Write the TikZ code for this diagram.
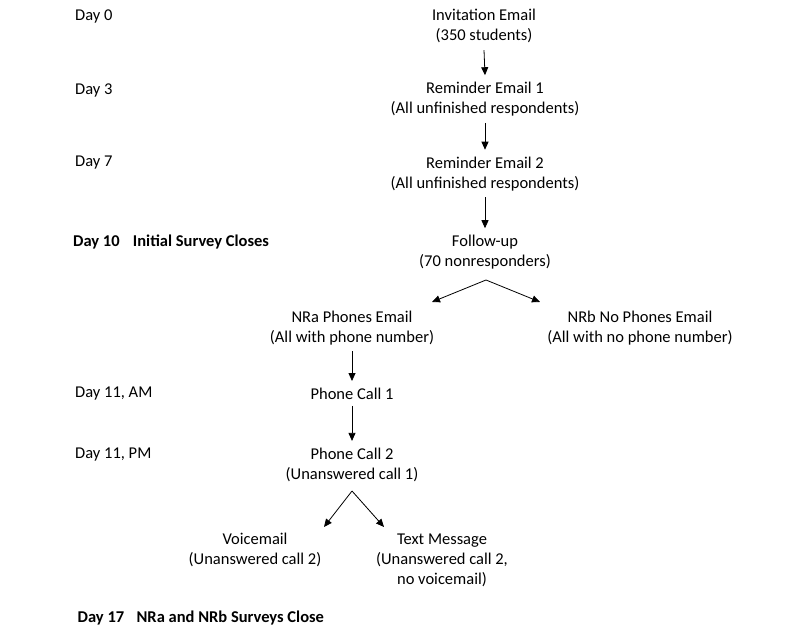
\documentclass[tikz,border=0pt]{standalone}
\usepackage{fontspec}
\setmainfont{Carlito}
\usetikzlibrary{arrows.meta}
\tikzset{
  lbl/.style={inner sep=0pt, align=center, font=\fontsize{16.5}{20}\selectfont},
  day/.style={inner sep=0pt, anchor=west, font=\fontsize{16.5}{20}\selectfont},
  bday/.style={day, font=\fontsize{16.5}{20}\selectfont\bfseries},
  arr/.style={line width=0.8pt, -{Triangle[length=8pt,width=7pt]}},
}
\begin{document}
\begin{tikzpicture}[x=1pt,y=-1pt]
\useasboundingbox (0,0) rectangle (800,639);
% day labels
\node[day] (d0) at (75,16) {Day 0};
\node[day] (d3) at (75,90) {Day 3};
\node[day] (d7) at (75,163) {Day 7};
\node[bday] (d10) at (73,242) {Day 10\hspace{0.8em}Initial Survey Closes};
\node[day] (d11a) at (75,394) {Day 11, AM};
\node[day] (d11p) at (75,455) {Day 11, PM};
\node[bday] (d17) at (77.5,618) {Day 17\hspace{0.75em}NRa and NRb Surveys Close};
% flow nodes
\node[lbl] (inv) at (484,26) {Invitation Email\\(350 students)};
\node[lbl] (rem1) at (485,99.5) {Reminder Email 1\\(All unfinished respondents)};
\node[lbl] (rem2) at (485,174) {Reminder Email 2\\(All unfinished respondents)};
\node[lbl] (fu) at (485,252.5) {Follow-up\\(70 nonresponders)};
\node[lbl] (nra) at (352,328) {NRa Phones Email\\(All with phone number)};
\node[lbl] (nrb) at (640,328) {NRb No Phones Email\\(All with no phone number)};
\node[lbl] (pc1) at (352,394) {Phone Call 1};
\node[lbl] (pc2) at (352,465) {Phone Call 2\\(Unanswered call 1)};
\node[lbl] (vm) at (255,550) {Voicemail\\(Unanswered call 2)};
\node[lbl] (tm) at (442,560) {Text Message\\(Unanswered call 2,\\no voicemail)};
% branch points
\coordinate (fub) at (486,280);
\coordinate (nrain) at (432,302);
\coordinate (nrbin) at (540,302);
\coordinate (pcb) at (352,491);
\coordinate (vmin) at (324,527);
\coordinate (tmin) at (384,527);
% arrows
\draw[arr] ([yshift=-7pt]inv.south) -- ([yshift=7pt]rem1.north);
\draw[arr] ([yshift=-6pt]rem1.south) -- ([yshift=7pt]rem2.north);
\draw[arr] ([yshift=-6pt]rem2.south) -- ([yshift=7pt]fu.north);
\draw[arr] (fub) -- (nrain);
\draw[arr] (fub) -- (nrbin);
\draw[arr] ([yshift=-6pt]nra.south) -- ([yshift=7pt]pc1.north);
\draw[arr] ([yshift=-6pt]pc1.south) -- ([yshift=7pt]pc2.north);
\draw[arr] (pcb) -- (vmin);
\draw[arr] (pcb) -- (tmin);
\end{tikzpicture}
\end{document}
